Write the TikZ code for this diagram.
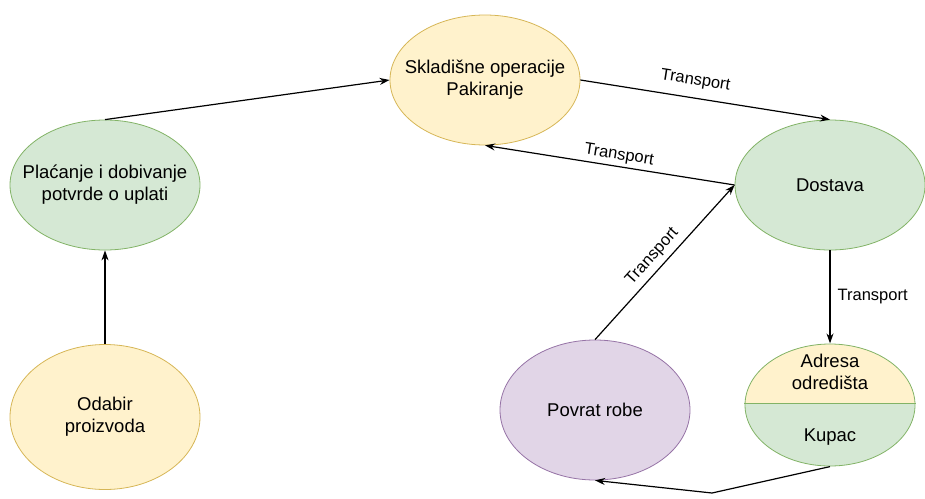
\documentclass[tikz,border=0pt]{standalone}
\usepackage{fontspec}
\setmainfont{Liberation Sans}
\usetikzlibrary{positioning,arrows.meta,shapes.geometric}

\definecolor{yelfill}{HTML}{FFF2CC}
\definecolor{yeldraw}{HTML}{D6B656}
\definecolor{grnfill}{HTML}{D5E8D4}
\definecolor{grndraw}{HTML}{82B366}
\definecolor{purfill}{HTML}{E1D5E7}
\definecolor{purdraw}{HTML}{9673A6}

\begin{document}
\begin{tikzpicture}[x=1pt, y=-1pt, >={Stealth[length=10pt, width=7pt]}, line width=1.2pt,
    stage/.style={ellipse, draw, line width=0.8pt, inner xsep=-22pt, inner ysep=-10pt,
        minimum width=190pt, minimum height=130pt, align=center,
        font=\fontsize{18.5}{22}\selectfont},
    yel/.style={stage, fill=yelfill, draw=yeldraw},
    grn/.style={stage, fill=grnfill, draw=grndraw},
    pur/.style={stage, fill=purfill, draw=purdraw},
    lbl/.style={font=\fontsize{16.5}{19}\selectfont, inner sep=3pt}]

        \useasboundingbox (0,0) rectangle (925,498);

        % left column
        \node[yel, minimum height=145pt] (odabir) at (105,417) {Odabir\\proizvoda};
        \node[grn] (placanje) at (105,185) {Plaćanje i dobivanje\\potvrde o uplati};

        % top and right
        \node[yel] (sklad) at (485,80) {Skladišne operacije\\Pakiranje};
        \node[grn] (dostava) at (830,185) {Dostava};
        \node[pur, minimum height=140pt] (povrat) at (595,410) {Povrat robe};

        % split ellipse: address / customer
        \node[ellipse, minimum width=170pt, minimum height=122pt, inner sep=0pt]
            (adresa) at (830,405) {};
        \begin{scope}
            \clip (adresa.center) ellipse (85pt and 61pt);
            \fill[yelfill] (745,340) rectangle (915,403);
            \fill[grnfill] (745,403) rectangle (915,470);
        \end{scope}
        \draw[grndraw, line width=0.8pt] (adresa.west |- 0,403) -- (adresa.east |- 0,403);
        \draw[grndraw, line width=0.8pt] (adresa.center) ellipse (85pt and 61pt);
        \node[font=\fontsize{18.5}{22}\selectfont, align=center] at (830,372) {Adresa\\odredišta};
        \node[font=\fontsize{18.5}{22}\selectfont] at (830,437) {Kupac};

        % connectors
        \draw[->] (odabir) -- (placanje);
        \draw[->] (placanje.north) -- (sklad.west);
        \draw[->] (sklad.east) -- (dostava.north)
            node[lbl, pos=0.45, above, sloped, yshift=6pt] {Transport};
        \draw[->] (dostava.west) -- (sklad.south)
            node[lbl, pos=0.47, above, sloped] {Transport};
        \draw[->] (povrat.north) -- (dostava.west)
            node[lbl, pos=0.48, above, sloped, yshift=2pt] {Transport};
        \draw[->] (dostava.south) -- (adresa.north)
            node[lbl, midway, right, xshift=4pt] {Transport};

        \coordinate (bend) at (712,493);
        \draw[->] (adresa.south) -- (bend) -- (povrat.south);

    \end{tikzpicture}
\end{document}
